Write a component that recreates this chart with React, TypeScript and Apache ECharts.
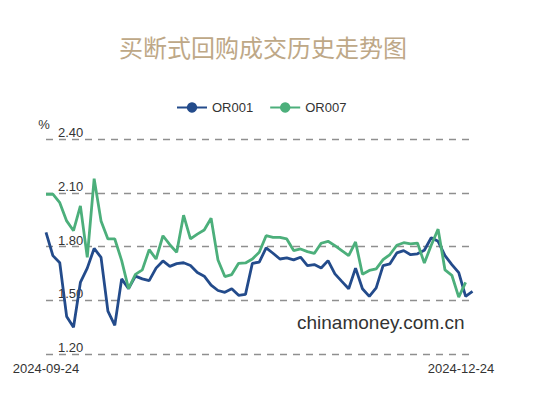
import React, { useEffect, useRef } from "react";
import * as echarts from "echarts";

const TITLE = "买断式回购成交历史走势图";
const SERIES_NAMES = ["OR001", "OR007"];

const dates: string[] = [
  "2024-09-24", "2024-09-25", "2024-09-26", "2024-09-27", "2024-09-29", "2024-09-30",
  "2024-10-08", "2024-10-09", "2024-10-10", "2024-10-11", "2024-10-12", "2024-10-14",
  "2024-10-15", "2024-10-16", "2024-10-17", "2024-10-18", "2024-10-21", "2024-10-22",
  "2024-10-23", "2024-10-24", "2024-10-25", "2024-10-28", "2024-10-29", "2024-10-30",
  "2024-10-31", "2024-11-01", "2024-11-04", "2024-11-05", "2024-11-06", "2024-11-07",
  "2024-11-08", "2024-11-11", "2024-11-12", "2024-11-13", "2024-11-14", "2024-11-15",
  "2024-11-18", "2024-11-19", "2024-11-20", "2024-11-21", "2024-11-22", "2024-11-25",
  "2024-11-26", "2024-11-27", "2024-11-28", "2024-11-29", "2024-12-02", "2024-12-03",
  "2024-12-04", "2024-12-05", "2024-12-06", "2024-12-09", "2024-12-10", "2024-12-11",
  "2024-12-12", "2024-12-13", "2024-12-16", "2024-12-17", "2024-12-18", "2024-12-19",
  "2024-12-20", "2024-12-23", "2024-12-24",
];

const or001: number[] = [
  1.88, 1.75, 1.71, 1.41, 1.35, 1.6, 1.68, 1.79, 1.74, 1.44,
  1.36, 1.62, 1.565, 1.635, 1.62, 1.61, 1.68, 1.72, 1.69, 1.705,
  1.71, 1.695, 1.655, 1.635, 1.585, 1.555, 1.545, 1.565, 1.528, 1.533,
  1.707, 1.713, 1.793, 1.763, 1.731, 1.737, 1.726, 1.741, 1.694, 1.7,
  1.681, 1.722, 1.648, 1.606, 1.565, 1.68, 1.565, 1.522, 1.57, 1.694,
  1.704, 1.765, 1.778, 1.755, 1.76, 1.78, 1.85, 1.83, 1.75, 1.7,
  1.655, 1.522, 1.55,
];

const or007: (number | null)[] = [
  2.093, 2.093, 2.046, 1.944, 1.889, 2.028, 1.74, 2.18, 1.944, 1.843,
  1.843, 1.722, 1.565, 1.645, 1.67, 1.783, 1.731, 1.861, 1.811, 1.769,
  1.976, 1.843, 1.87, 1.893, 1.959, 1.725, 1.633, 1.644, 1.707, 1.709,
  1.731, 1.769, 1.861, 1.852, 1.852, 1.843, 1.778, 1.787, 1.772, 1.762,
  1.819, 1.83, 1.806, 1.778, 1.75, 1.826, 1.646, 1.667, 1.676, 1.727,
  1.756, 1.808, 1.822, 1.815, 1.82, 1.708, 1.808, 1.898, 1.67, 1.64,
  1.518, 1.6, null,
];

const Y_MIN = 1.2;
const Y_MAX = 2.4;
const Y_STEP = 0.3;
const Y_UNIT = "%";
const WATERMARK = "chinamoney.com.cn";

const COLORS = ["#234b8b", "#4caf7b"];
const LATIN = "'Liberation Sans', Arial, sans-serif";

export default function App() {
  const ref = useRef<HTMLDivElement>(null);
  useEffect(() => {
    if (!ref.current) return;
    const chart = echarts.init(ref.current, undefined, { renderer: "svg" });
    const last = dates.length - 1;
    chart.setOption({
      animation: false,
      color: COLORS,
      title: {
        text: TITLE,
        left: 114,
        top: 29,
        textStyle: {
          fontSize: 24,
          fontWeight: "normal",
          color: "#bea887",
          fontFamily: "'Noto Sans CJK SC', sans-serif",
        },
      },
      legend: {
        left: 171,
        top: 96,
        itemWidth: 30,
        itemHeight: 13,
        itemGap: 16,
        textStyle: { fontSize: 13, color: "#333", fontFamily: LATIN },
        data: SERIES_NAMES,
      },
      grid: { left: 46, right: 64.5, top: 139.3, bottom: 42, containLabel: false },
      xAxis: {
        type: "category",
        data: dates,
        boundaryGap: false,
        axisLine: { show: false },
        axisTick: { show: false },
        splitLine: { show: false },
        axisLabel: {
          interval: (i: number) => i === 0 || i === last,
          showMinLabel: true,
          showMaxLabel: true,
          margin: 8,
          fontSize: 13,
          color: "#333",
          fontFamily: LATIN,
          formatter: (v: string, i: number) => (i === last ? `{r|${v}}` : v),
          rich: {
            r: { fontSize: 13, color: "#333", fontFamily: LATIN, padding: [0, 23, 0, 0] },
          },
        },
      },
      yAxis: {
        type: "value",
        min: Y_MIN,
        max: Y_MAX,
        interval: Y_STEP,
        name: Y_UNIT,
        nameGap: 8,
        nameTextStyle: { fontSize: 13, color: "#333", fontFamily: LATIN, padding: [0, 4, 0, 0] },
        axisLine: { show: false },
        axisTick: { show: false },
        axisLabel: {
          inside: true,
          margin: 12,
          verticalAlign: "bottom",
          fontSize: 13,
          color: "#333",
          fontFamily: LATIN,
          formatter: (v: number) => v.toFixed(2),
        },
        splitLine: {
          show: true,
          lineStyle: { color: "#8f8f8f", type: [7, 6], width: 1.3 },
        },
      },
      graphic: [
        {
          type: "text",
          left: 297,
          top: 313,
          style: { text: WATERMARK, fontSize: 19, fill: "#333", fontFamily: LATIN },
        },
      ],
      series: [
        {
          name: SERIES_NAMES[0],
          type: "line",
          data: or001,
          symbol: "circle",
          symbolSize: 10,
          showSymbol: false,
          lineStyle: { width: 2.8, color: COLORS[0] },
          itemStyle: { color: COLORS[0] },
        },
        {
          name: SERIES_NAMES[1],
          type: "line",
          data: or007,
          symbol: "circle",
          symbolSize: 10,
          showSymbol: false,
          lineStyle: { width: 2.8, color: COLORS[1] },
          itemStyle: { color: COLORS[1] },
        },
      ],
    });
    return () => chart.dispose();
  }, []);
  return (
    <div
      ref={ref}
      style={{ position: "fixed", left: 0, top: 0, width: 537, height: 396, background: "#fff" }}
    />
  );
}
